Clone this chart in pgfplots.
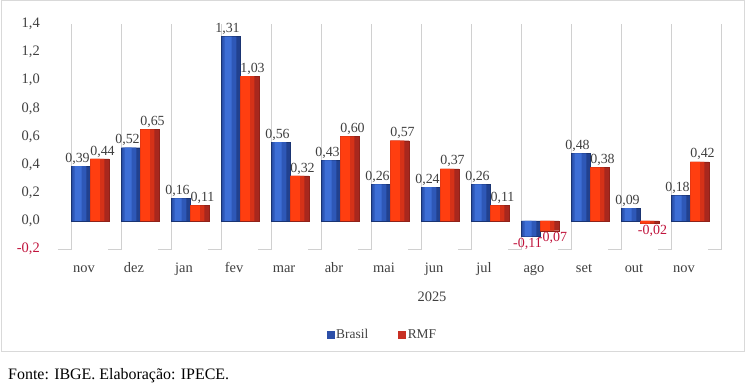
\documentclass[border=0pt]{standalone}
\usepackage{fontspec}
\setmainfont{Liberation Serif}
\usepackage{pgfplots}
\pgfplotsset{compat=1.18}
\definecolor{txt}{HTML}{404040}
\definecolor{negred}{HTML}{C0143C}
\definecolor{gridc}{HTML}{D0D0D0}
\definecolor{framec}{HTML}{D9D9D9}
\definecolor{bBase}{HTML}{21418F}
\definecolor{bMid}{HTML}{2E58B8}
\definecolor{bHi}{HTML}{3D6ED6}
\definecolor{rBase}{HTML}{A8281E}
\definecolor{rMid}{HTML}{D63218}
\definecolor{rHi}{HTML}{FF3E10}
\definecolor{legB}{HTML}{2C4FA8}
\definecolor{legR}{HTML}{C83024}
\pgfplotstableread{
x br rmf
0 0.39 0.44
1 0.52 0.65
2 0.16 0.11
3 1.31 1.03
4 0.56 0.32
5 0.43 0.60
6 0.26 0.57
7 0.24 0.37
8 0.26 0.11
9 -0.11 -0.07
10 0.48 0.38
11 0.09 -0.02
12 0.18 0.42
}\datatab
\begin{document}
\begin{tikzpicture}
\useasboundingbox (0bp,0bp) rectangle (745bp,383bp);
\draw[framec, line width=1bp] (1bp,31bp) rectangle (744bp,382bp);
\node[anchor=base west, inner sep=0pt, font=\fontsize{16}{18}\selectfont, text=black] at (8bp,4bp) {Fonte: IBGE. Elaboração: IPECE.};
\begin{axis}[
  at={(65bp,134bp)}, anchor=south west, scale only axis,
  width=656bp, height=225bp,
  xmin=-0.5, xmax=12.62, ymin=-0.2, ymax=1.4,
  clip=false,
  axis line style={draw=none},
  major tick length=0pt,
  xtick={0,...,12},
  xticklabels={nov,dez,jan,fev,mar,abr,mai,jun,jul,ago,set,out,nov},
  xticklabel style={anchor=base, yshift=-23bp, xshift=-6bp, font=\fontsize{14.5}{16}\selectfont, text=txt},
  ytick={-0.2,0,0.2,0.4,0.6,0.8,1.0,1.2,1.4},
  yticklabels={{\textcolor{negred}{-0,2}},{0,0},{0,2},{0,4},{0,6},{0,8},{1,0},{1,2},{1,4}},
  yticklabel style={anchor=east, inner sep=0pt, xshift=-25bp, font=\fontsize{14.5}{16}\selectfont, text=txt},
  /pgf/number format/.cd, fixed, fixed zerofill, precision=2, use comma, assume math mode=true,
  /pgfplots/.cd,
  unbounded coords=jump,
  legend style={at={(0.484,-0.382)}, anchor=center, draw=none, fill=none, legend columns=2,
    font=\fontsize{13.5}{15}\selectfont, text=txt,
    /tikz/every even column/.append style={column sep=28bp}},
  legend image code/.code={\fill[#1] (0bp,-3.5bp) rectangle (7bp,3.5bp);},
  every node near coord/.append style={font=\fontsize{14}{16}\selectfont, text=txt, inner sep=1.5bp},
]
% background grid lines with floor hooks
\addplot[gridc, line width=0.9bp, forget plot] coordinates {
(-0.64,-0.2) (-0.38,-0.2) (-0.38,1.4) (-0.38,nan)
(0.36,-0.2) (0.62,-0.2) (0.62,1.4) (0.62,nan)
(1.36,-0.2) (1.62,-0.2) (1.62,1.4) (1.62,nan)
(2.36,-0.2) (2.62,-0.2) (2.62,1.4) (2.62,nan)
(3.36,-0.2) (3.62,-0.2) (3.62,1.4) (3.62,nan)
(4.36,-0.2) (4.62,-0.2) (4.62,1.4) (4.62,nan)
(5.36,-0.2) (5.62,-0.2) (5.62,1.4) (5.62,nan)
(6.36,-0.2) (6.62,-0.2) (6.62,1.4) (6.62,nan)
(7.36,-0.2) (7.62,-0.2) (7.62,1.4) (7.62,nan)
(8.36,-0.2) (8.62,-0.2) (8.62,1.4) (8.62,nan)
(9.36,-0.2) (9.62,-0.2) (9.62,1.4) (9.62,nan)
(10.36,-0.2) (10.62,-0.2) (10.62,1.4) (10.62,nan)
(11.36,-0.2) (11.62,-0.2) (11.62,1.4) (11.62,nan)
(12.36,-0.2) (12.62,-0.2) (12.62,1.4)
};
% Brasil: base bar + lighter strips (pseudo gradient)
\addplot[ybar, bar width=0.38, bar shift=-0.19, draw=bBase!80!black, line width=0.4bp,
  fill=bBase, forget plot,
  every node near coord/.append style={xshift=-12.5bp},
  nodes near coords={\pgfmathfloatifflags{\pgfplotspointmeta}{-}{\color{negred}}{}\pgfmathprintnumber{\pgfplotspointmeta}}]
  table[x=x, y=br] {\datatab};
\addplot[ybar, bar width=0.28, bar shift=-0.215, draw=none, fill=bMid, forget plot]
  table[x=x, y=br] {\datatab};
\addplot[ybar, bar width=0.14, bar shift=-0.24, draw=none, fill=bHi, forget plot]
  table[x=x, y=br] {\datatab};
% RMF
\addplot[ybar, bar width=0.38, bar shift=0.19, draw=rBase!85!black, line width=0.4bp,
  fill=rBase, forget plot,
  every node near coord/.append style={xshift=12.5bp},
  nodes near coords={\pgfmathfloatifflags{\pgfplotspointmeta}{-}{\color{negred}}{}\pgfmathprintnumber{\pgfplotspointmeta}}]
  table[x=x, y=rmf] {\datatab};
\addplot[ybar, bar width=0.28, bar shift=0.145, draw=none, fill=rMid, forget plot]
  table[x=x, y=rmf] {\datatab};
\addplot[ybar, bar width=0.19, bar shift=0.10, draw=none, fill=rHi, forget plot]
  table[x=x, y=rmf] {\datatab};
\addlegendimage{legB}
\addlegendentry{Brasil}
\addlegendimage{legR}
\addlegendentry{RMF}
\node[font=\fontsize{14.5}{16}\selectfont, text=txt] at (axis cs:6.84,-0.542) {2025};
\end{axis}
\end{tikzpicture}
\end{document}
